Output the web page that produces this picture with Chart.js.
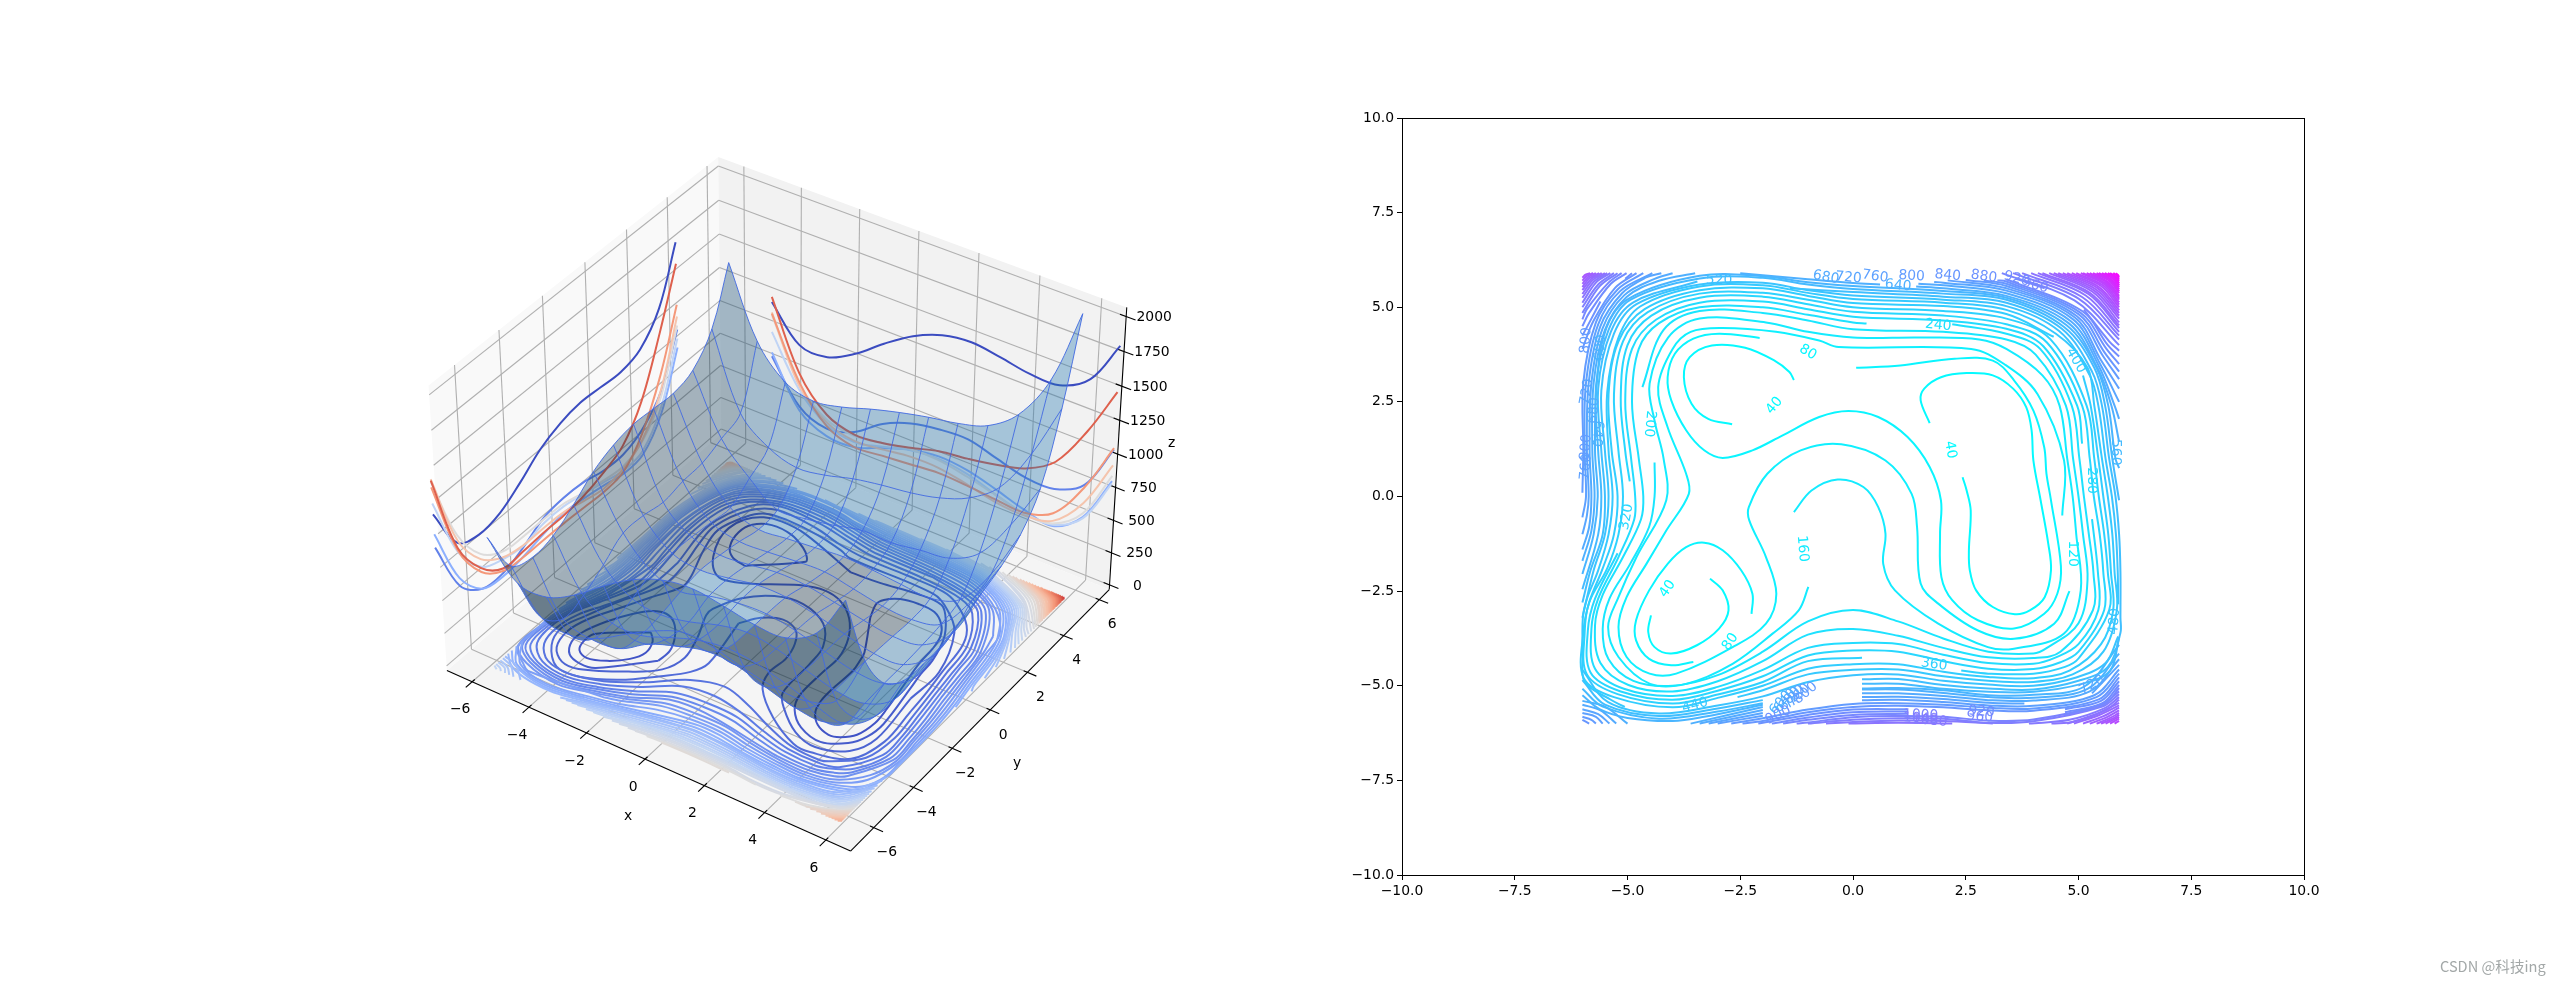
<!DOCTYPE html>
<html><head><meta charset="utf-8">
<style>html,body{margin:0;padding:0;background:#fff;width:2560px;height:983px;overflow:hidden}
canvas{position:absolute;top:0}
#mark{position:absolute;left:2440px;top:955px;font:14.6px "Noto Sans CJK SC","DejaVu Sans",sans-serif;color:#a3a8a8;white-space:nowrap}</style>
<script src="https://cdn.jsdelivr.net/npm/chart.js@4/dist/chart.umd.js"></script>
</head><body>
<canvas id="surf" width="1280" height="983" style="left:0;width:1280px;height:983px"></canvas>
<canvas id="cont" width="1280" height="983" style="left:1280px;width:1280px;height:983px"></canvas>
<div id="mark">CSDN @科技ing</div>
<script>
// ---------- right panel axis ----------
const axisTicks=[-10,-7.5,-5,-2.5,0,2.5,5,7.5,10];
// ---------- contour lines as x,y pairs; null = a gap left by an inline label ----------
const contourLevels=[40,80,120,160,200,240,280,320,360,400,440,480,520,560,600,640,680,720,760,800,840,880,920,960,1000,1040,1080,1120,1160,1200,1240,1280,1320,1360,1400,1440,1480,1520,1560,1600,1640,1680,1720,1760,1800,1840,1880,1920,1960,2000];
const contourPaths=[
/*40*/[[-2.68,1.91,-3.21,2.05,-3.58,2.45,-3.75,3.15,-3.62,3.68,-3.13,3.99,-2.39,3.93,-1.74,3.59,-1.41,3.29,-1.31,3.08],
[-3.17,-2.17,-2.89,-2.48,-2.76,-3.01,-2.97,-3.49,-3.46,-3.93,-4.03,-4.15,-4.4,-3.98,-4.54,-3.58,-4.48,-3.14],
[1.7,1.94,1.5,2.54,1.58,2.85,1.95,3.15,2.52,3.26,3.1,3.2,3.55,2.85,3.84,2.36,3.96,1.75,4,.95,4.16,-.1,4.33,-1.25,4.39,-1.95,4.25,-2.66,3.92,-3.01,3.59,-3.11,3.1,-2.92,2.73,-2.48,2.59,-1.95,2.57,-1.42,2.61,-.37,2.52,.16,2.43,.51]],
/*80*/[[-2.25,-3.1,-2.23,-2.57,-2.48,-1.95,-2.89,-1.42,-3.3,-1.22,-3.7,-1.34,-4.11,-1.78,-4.52,-2.48,-4.81,-3.27,-4.81,-3.8,-4.52,-4.29,-4.03,-4.46,-3.54,-4.37],
[.07,3.4,1.05,3.46,2.25,3.64,3.1,3.59,3.57,3.07,4,2.27,4.24,1.3,4.29,.6,4.39,-.1,4.61,-1.84,4.53,-2.57,4.24,-3.1,3.57,-3.49,2.77,-3.27,2.2,-2.74,1.96,-2.13,1.93,-.98,1.95,-.1,1.7,.78,1.21,1.57,.56,2.1,-.1,2.26,-.75,2.1,-1.57,1.61,-2.23,1.22,-2.89,1.02,-3.3,1.22,-3.7,1.75,-4.03,2.54,-4.11,3.15,-3.95,3.77,-3.54,4.17,-2.97,4.3,-2.07,4.19]],
/*120*/[[4.64,-.5,4.68,.95,4.09,2.71,3.35,3.5,2.62,3.9,-.32,3.95,-.75,4.12,-1.71,4.35,-2.9,4.45,-3.6,4.35,-4,3.9,-4.32,2.89,-4.11,1.83,-3.7,.6,-3.64,.07,-4.14,-.9,-4.58,-1.78,-5.02,-2.66,-5.2,-3.45,-5.02,-4.24,-4.51,-4.68,-3.92,-4.68,-2.67,-3.98,-1.93,-3.36,-1.7,-2.57,-1.93,-1.6,-2.3,-.63,-2.31,-.28,-1.9,.6,-1.16,1.22,-.26,1.38,.72,.95,1.3,.07,1.42,-.81,1.5,-2.3,1.89,-2.83,2.77,-3.54,3.57,-3.76,4.46,-3.36,4.8,-2.5]],
/*160*/[[-1.31,-.41,-.92,.16,-.34,.45,.23,.25,.56,-.28,.72,-.98,.67,-1.78,.93,-2.48,1.89,-3.36,2.99,-3.98,3.57,-4.02,4.68,-3.62,5.05,-2.48,4.95,-1,4.87,0,4.75,1,4.58,2.4,4.2,3.2,3.4,3.9,2.8,4.15,1.5,4.2,0,4.2,-1,4.35,-1.93,4.6,-3.4,4.7,-4.1,4.2,-4.51,2.98,-4.4,2,-4.2,1,-4.14,-.1,-4.8,-1.6,-5.2,-2.66,-5.43,-3.45,-5.2,-4.24,-4.5,-4.95,-3.7,-4.95,-2.67,-4.42,-1.79,-3.63,-1.2,-3,-.99,-2.39]],
/*200*/[[-4.4,.9,-4.4,0,-4.52,-.8,-4.95,-1.8,-5.4,-2.7,-5.55,-3.5,-5.42,-4.3,-4.87,-4.87,-4,-5,-3,-4.72,-2,-4.1,-1,-3.3,0,-3,1,-3.3,2,-3.75,3,-4.1,4,-4.15,4.3,-4,5,-3.35,5.2,-2.2,5.1,-1,5,0,4.88,1,4.72,2.4,4.05,3.75,3.4,4.15,2,4.35,0,4.42,-1,4.65,-2,4.85,-3.4,4.9,-4.2,4.4,-4.67,2.89]],
/*240*/[[2.2,4.55,3.4,4.3,4.15,3.9,4.85,2.4,5.02,1,5.12,0,5.23,-1,5.33,-2,5.32,-3,4.6,-4.1,4,-4.27,3,-4.25,2,-4,1,-3.68,0,-3.5,-1,-3.65,-2,-4.35,-3,-4.88,-4,-5.15,-4.98,-4.98,-5.6,-4.4,-5.72,-3.4,-5.55,-2.6,-5.1,-1.6,-4.7,-.6,-4.65,0,-4.75,1,-4.9,2.5,-4.75,3.9,-4.3,4.58,-3.4,5,-2,5,-1,4.8,0,4.6,.3,4.57]],
/*280*/[[5.3,-.6,5.43,-2,5.44,-3,5,-3.9,4.5,-4.25,4,-4.42,3,-4.4,2,-4.18,1,-3.9,0,-3.87,-1,-4,-2,-4.58,-3,-5.03,-4,-5.27,-5.08,-5.08,-5.72,-4.55,-5.8,-3.5,-5.65,-2.7,-5.2,-1.6,-4.85,-.6,-4.83,0,-4.92,1,-5.05,2.5,-4.9,3.9,-4.37,4.67,-3.4,5.12,-2,5.15,-1,4.95,0,4.75,2,4.65,3.4,4.43,4.22,3.97,4.97,2.4,5.08,1.4]],
/*320*/[[-5.22,-1.5,-5.72,-2.7,-5.88,-3.55,-5.82,-4.65,-5.15,-5.15,-4,-5.37,-3,-5.13,-2,-4.75,-1,-4.2,0,-4.07,1,-4.1,2,-4.35,3,-4.55,4,-4.56,4.6,-4.38,5,-4.1,5.57,-3,5.55,-2,5.47,-1,5.34,0,5.25,1,5.08,2.4,4.3,4.07,3.4,4.55,2,4.78,0,4.88,-1,5.08,-2,5.28,-3.4,5.25,-4.47,4.78,-5,4,-5.15,2.6,-5.05,1.2,-4.95,.4]],
/*360*/[[2.4,-4.6,3,-4.68,4,-4.68,4.7,-4.5,5,-4.28,5.68,-3,5.65,-2,5.57,-1,5.45,0,5.35,1,5.18,2.4,4.38,4.15,3.4,4.7,2,4.9,0,5,-1,5.2,-2,5.38,-3.4,5.36,-4.55,4.87,-5.1,4.1,-5.3,2.7,-5.2,1.2,-5.1,0,-5.2,-1,-5.45,-1.9,-5.85,-2.8,-5.95,-3.6,-5.9,-4.7,-5.22,-5.22,-4,-5.47,-3,-5.23,-2,-4.9,-1,-4.35,.2,-4.26]],
/*400*/[[5.1,3.2,5.27,2.4,5.44,1,5.55,0,5.66,-1,5.72,-2,5.77,-3,5.5,-3.9,4.8,-4.6,4,-4.8,3,-4.77,2,-4.63,1,-4.43,0,-4.43,-1,-4.55,-2,-5,-3,-5.32,-4,-5.57,-5.3,-5.3,-5.97,-4.8,-5.98,-3.6,-5.85,-2.8,-5.55,-1.9,-5.3,-1,-5.22,0,-5.35,1.2,-5.42,2.7,-5.2,4.1,-4.62,4.95,-3.4,5.45,-2,5.5,-1,5.3,0,5.11,2,5.03,3.4,4.82,4.45,4.22]],
/*440*/[[-2.56,-5.3,-2,-5.12,-1,-4.7,0,-4.58,1,-4.57,2,-4.75,3,-4.87,4,-4.9,4.87,-4.7,5.55,-4.1,5.85,-3,5.8,-2,5.75,-1,5.65,0,5.52,1,5.35,2.4,5.2,3.4,4.5,4.3,3.4,4.93,2,5.12,0,5.22,-1,5.38,-2,5.58,-3.4,5.55,-4.72,5.02,-5.2,4.2,-5.45,2.75,-5.42,1.2,-5.33,0,-5.42,-1,-5.65,-1.95,-5.9,-2.7,-5.99,-3.2,-5.99,-4.2,-5.95,-4.9,-5.37,-5.37,-5.06,-5.56]],
/*480*/[[-6,-3.2,-5.75,-1.95,-5.5,-1,-5.42,0,-5.5,1.2,-5.58,2.8,-5.3,4.3,-4.8,5.08,-3.4,5.6,-2,5.65,-1,5.45,0,5.31,2,5.2,3.4,5.03,4.57,4.37,5.25,3.2,5.44,2.4,5.6,1,5.74,0,5.83,-1,5.87,-2,5.88,-2.85,null,5.88,-3.7,5.6,-4.4,4.95,-4.78,4,-5,3,-4.97,2,-4.87,1,-4.7,0,-4.72,-1,-4.9,-2,-5.28,-3,-5.52,-4.3,-5.73,-5.43,-5.43,-6,-4.58]],
/*520*/[[-6,-2.8,-5.82,-1.95,-5.55,-1,-5.5,0,-5.58,1.2,-5.65,2.85,-5.37,4.35,-4.87,5.13,-3.45,5.68,null,-1.4,5.5,0,5.4,2,5.28,3.4,5.12,4.63,4.43,5.3,3.3,5.52,2.4,5.68,1,5.82,0,5.9,-1,5.93,-2,5.93,-3.2,5.93,-3.6,5.65,-4.5,5,-4.87,4,-5.1,3,-5.07,2,-4.98,1,-4.82,.2,-4.83,null,-2,-5.38,-3,-5.6,-4.3,-5.8,-5.5,-5.5,-6,-4.85]],
/*560*/[[-6,-2.45,-5.65,-1,-5.58,0,-5.65,1.2,-5.7,2.9,-5.42,4.4,-4.93,5.2,-3.4,5.76,-2,5.78,-1,5.6,0,5.48,2,5.36,3.4,5.2,4.68,4.48,5.35,3.4,5.59,2.4,5.75,1,5.9,-.1],
[5.9,-3.72,5.7,-4.6,5.07,-4.95,4,-5.16,3,-5.16,2,-5.08,1,-4.95,.2,-4.95,null,-2,-5.46,-3,-5.68,-4.3,-5.87,-5.55,-5.55,-6,-5.08]],
/*600*/[[-6,-2.05,-5.75,-1,-5.66,0,-5.72,1.2,-5.68,3,-5.47,4.45,-4.97,5.23,-3.4,5.83,-2,5.82,-1,5.66,0,5.56,2,5.43,3.4,5.25,4.73,4.53,5.4,3.4,5.66,2.4,5.82,1,5.9,.75],
[5.9,-3.92,5.13,-5.02,4,-5.24,3,-5.25,2,-5.12,1,-5.06,.2,-5.07,null,-2,-5.5,-3.3,-5.82,-4,-5.93,-5,-5.85,-5.62,-5.62,-6,-5.25]],
/*640*/[[-6,-1.7,-5.8,-.9,-5.73,0,-5.78,1.2,-5.75,3,-5.5,4.4,-5.02,5.27,-4.3,5.7,-3.5,5.9],[-2.5,5.9,-1,5.74,0,5.64,.6,5.6,null,1.4,5.55,2,5.5,3.4,5.3,4.78,4.58,5.42,3.4,5.73,2.4,5.9,1.45],
[5.9,-4.15,5.2,-5.08,4,-5.32,3,-5.3,2,-5.19,1,-5.1,.2,-5.1,null,-2,-5.56,-3.6,-6],[-6,-5.4,-5.5,-5.55,-5,-6]],
/*680*/[[-6,-1.4,-5.85,-.8,-5.8,0,-5.84,1.2,-5.8,3,-5.55,4.45,-5.07,5.32,-4.4,5.75,-4,5.9],[-1.9,5.9,null,-1,5.82,null,0,5.72,null,1.45,5.62,2,5.58,3.4,5.37,4.83,4.63,5.45,3.45,5.8,2.4,5.9,2.05],
[5.9,-4.3,5.25,-5.15,4,-5.39,3,-5.38,2,-5.27,1,-5.2,.2,-5.2,null,-2,-5.64,-3.4,-6],[-6,-5.5,-5.6,-5.65,-5.25,-6]],
/*720*/[[-6,-1,-5.9,-.5,-5.86,0,-5.9,1.2,-5.86,3,-5.6,4.5,-5.12,5.37,-4.6,5.78,-4.25,5.9],[-1.3,5.9,null,0,5.8,null,1.8,5.67,2,5.65,3.4,5.44,4.88,4.68,5.48,3.5,5.9,2.5],
[5.9,-4.45,5.3,-5.2,null,3.8,-5.47,3,-5.45,2,-5.35,1,-5.29,.2,-5.3,null,-2,-5.72,-3.2,-6],[-6,-5.62,-5.65,-5.75,-5.4,-6]],
/*760*/[[-6,-.55,-5.92,0,-5.95,1.2,-5.92,3,-5.65,4.55,-5.17,5.42,-4.45,5.9],[-.7,5.9,null,0,5.87,null,1.2,5.79,null,2.1,5.71,3.4,5.5,4.92,4.73,5.5,3.6,5.9,2.85],
[5.9,-4.57,5.35,-5.25,4,-5.53,3,-5.52,2,-5.43,1,-5.37,.2,-5.38,null,-2,-5.79,-3,-6],[-6,-5.72,-5.7,-5.82,-5.55,-6]],
/*800*/[[-6,.1,-5.98,1.2,-5.98,3,-5.7,4.6,-5.22,5.47,-4.65,5.9],[0,5.9,null,1.4,5.83,null,2.5,5.72,3.4,5.56,4.96,4.77,5.55,3.7,5.9,3.1],
[5.9,-4.68,5.4,-5.3,4,-5.6,3,-5.58,2,-5.5,1,-5.46,0,-5.48,-1,-5.63,-2,-5.86,-2.7,-6],[-6,-5.82,-5.8,-5.9,-5.7,-6]],
/*840*/[[-6,3.9,-5.75,4.65,-5.27,5.52,-4.8,5.9],[.9,5.9,null,2,5.85,null,2.9,5.7,3.4,5.62,5,4.82,5.58,3.8,5.9,3.3],[5.9,-4.78,5.45,-5.36,4,-5.66,3,-5.65,2,-5.57,1,-5.53,0,-5.56,-1,-5.7,-2,-5.93,-2.45,-6],[-6,-5.9,-5.85,-6]],
/*880*/[[-6,4.25,-5.8,4.7,-5.6,5.15,null,-5.05,5.75,-4.9,5.9],[1.8,5.9,null,2.6,5.81,null,3.2,5.71,3.4,5.68,5.04,4.86,5.62,3.9,5.9,3.5],[5.9,-4.88,5.5,-5.4,4.7,-5.62,null,1.2,-5.62,0,-5.63,-1,-5.77,-2.1,-6]],
/*920*/[[-6,4.5,-5.85,4.85,-5.37,5.62,-5.02,5.9],[2.5,5.9,null,3,5.82,null,3.4,5.74,5.08,4.9,5.65,4,5.9,3.7],[5.9,-4.98,5.53,-5.46,4.7,-5.7,null,1.2,-5.68,0,-5.7,-1,-5.84,-1.8,-6]],
/*960*/[[-6,4.68,-5.9,4.95,-5.42,5.65,-5.13,5.9],[3,5.9,null,3.6,5.76,4.25,5.5,null,5.12,4.94,5.68,4.1,5.9,3.85],[5.9,-5.06,5.57,-5.5,4.7,-5.76,null,1.2,-5.74,0,-5.77,-1,-5.9,-1.55,-6]],
/*1000*/[[-6,4.85,-5.62,5.55,-5.22,5.9],[3.3,5.9,4.91,5.18,5.9,4],[5.9,-5.15,5.5,-5.5,4,-5.89,3,-5.92,2,-5.82,1,-5.8,0,-5.83,-1,-5.97,-1.25,-6]],
/*1040*/[[-6,5,-5.65,5.6,-5.3,5.9],[3.55,5.9,5,5.23,5.9,4.15],[5.9,-5.22,5.53,-5.55,4,-5.94,3,-5.98,2,-5.87,1,-5.86,0,-5.9,-1,-6]],
/*1080*/[[-6,5.12,-5.7,5.65,-5.38,5.9],[3.75,5.9,5.08,5.27,5.9,4.25],[5.9,-5.3,5.57,-5.6,4.8,-5.9,3.9,-6],[3.1,-6,2,-5.93,1,-5.92,0,-5.96,-.6,-6]],
/*1120*/[[-6,5.25,-5.74,5.68,-5.45,5.9],[3.95,5.9,5.16,5.31,5.9,4.35],[5.9,-5.37,5.6,-5.65,4.9,-5.95,4.4,-6],[2.2,-6,1,-5.98,-.1,-6]],
/*1160*/[[-6,5.35,-5.77,5.72,-5.5,5.9],[4.1,5.9,5.22,5.35,5.9,4.45],[5.9,-5.45,5.38,-5.75,4.75,-6]],
/*1200*/[[-6,5.45,-5.8,5.75,-5.57,5.9],[4.2,5.9,5.25,5.38,5.9,4.52],[5.9,-5.52,5.45,-5.78,4.9,-6]],
/*1240*/[[-6,5.53,-5.84,5.77,-5.63,5.9],[4.35,5.9,5.31,5.41,5.9,4.6],[5.9,-5.58,5.54,-5.81,5.1,-6]],
/*1280*/[[-6,5.62,-5.87,5.8,-5.7,5.9],[4.45,5.9,5.35,5.44,5.9,4.7],[5.9,-5.65,5.61,-5.84,5.25,-6]],
/*1320*/[[-6,5.7,-5.9,5.83,-5.76,5.9],[4.55,5.9,5.39,5.47,5.9,4.78],[5.9,-5.72,5.67,-5.87,5.4,-6]],
/*1360*/[[-6,5.78,-5.93,5.86,-5.83,5.9],[4.65,5.9,5.43,5.5,5.9,4.85],[5.9,-5.77,5.72,-5.89,5.5,-6]],
/*1400*/[[4.75,5.9,5.46,5.53,5.9,4.92],[5.9,-5.82,5.76,-5.91,5.6,-6]],
/*1440*/[[4.85,5.9,5.5,5.56,5.9,5],[5.9,-5.87,5.81,-5.93,5.7,-6]],
/*1480*/[[4.95,5.9,5.54,5.58,5.9,5.07],[5.9,-5.93,5.85,-5.96,5.8,-6]],
/*1520*/[[5.05,5.9,5.57,5.61,5.9,5.13]],
/*1560*/[[5.1,5.9,5.6,5.63,5.9,5.2]],/*1600*/[[5.18,5.9,5.63,5.65,5.9,5.25]],/*1640*/[[5.25,5.9,5.65,5.67,5.9,5.3]],/*1680*/[[5.32,5.9,5.68,5.7,5.9,5.37]],
/*1720*/[[5.4,5.9,5.71,5.72,5.9,5.42]],/*1760*/[[5.45,5.9,5.73,5.74,5.9,5.47]],/*1800*/[[5.52,5.9,5.76,5.76,5.9,5.53]],/*1840*/[[5.58,5.9,5.78,5.78,5.9,5.58]],
/*1880*/[[5.65,5.9,5.8,5.8,5.9,5.63]],/*1920*/[[5.7,5.9,5.82,5.82,5.9,5.7]],/*1960*/[[5.77,5.9,5.85,5.84,5.9,5.75]],/*2000*/[[5.83,5.9,5.87,5.86,5.9,5.8]]
];
// ---------- inline contour labels ----------
const labelTexts=["40","40","40","80","80","120","160","200","240","280","320","520","360","400","440","480","560","600","640","680","720","760","800","840","880","920","960","800","720","680","640","800","760","1000","1040","1080","920","960","600","640","680","720","760","800","720","900"];
const labelLevels=[40,40,40,80,80,120,160,200,240,280,320,520,360,400,440,480,560,600,640,680,720,760,800,840,880,920,960,800,720,680,640,800,760,1000,1040,1080,920,960,600,640,680,720,760,800,720,900];
const labelX=[-1.74,-4.11,2.16,-1,-2.72,4.86,-1.12,-4.51,1.89,5.29,-5.02,-2.97,1.8,4.94,-3.5,5.8,5.82,-5.6,1,-.6,-.1,.49,1.3,2.1,2.9,3.63,4.04,-5.92,-5.9,-5.74,-5.67,-5.92,-5.92,1.5,1.5,1.7,2.85,2.81,-1.6,-1.5,-1.4,-1.3,-1.2,-1.05,5.3,-1.66];
const labelY=[2.4,-2.44,1.23,3.81,-3.84,-1.51,-1.38,1.92,4.52,.42,-.54,5.72,-4.44,3.59,-5.52,-3.3,1.17,3.93,5.57,5.79,5.78,5.81,5.82,5.84,5.81,5.75,5.57,4.12,2.76,2.27,1.66,1.3,.78,-5.78,-5.87,-5.93,-5.69,-5.83,-5.45,-5.4,-5.35,-5.3,-5.25,-5.2,-4.98,-5.78];
const labelAngles=[-50,-55,80,30,-55,90,85,95,5,90,-80,0,8,60,-15,-85,90,-85,5,10,5,8,3,5,8,15,15,-85,-80,-85,95,-85,-85,2,3,5,5,3,-50,-50,-50,-50,-45,-40,-30,-25];
// ---------- surface heights, estimated; rows = y, columns = x ----------
const gridX=[-6,-5,-4,-3,-2,-1,0,1,2,3,4,5,5.9];
const gridY=[-6,-5,-4,-3,-2,-1,0,1,2,3,4,5,5.9];
const surfaceZ=[
[890,640,630,740,900,1040,1130,1160,1130,1090,1090,1220,1540],
[540,240,200,270,400,520,600,580,520,480,480,580,960],
[470,90,25,50,180,260,320,310,240,180,170,300,650],
[500,130,10,10,90,165,200,180,120,50,10,170,530],
[600,230,60,30,70,140,180,150,85,25,20,155,510],
[720,340,130,70,130,170,180,145,80,25,30,170,520],
[790,340,140,100,130,170,170,130,75,20,30,200,570],
[820,310,130,80,100,130,125,85,40,10,40,230,620],
[810,340,110,50,60,80,90,50,10,0,60,340,680],
[800,350,90,10,30,50,70,60,40,26,110,400,780],
[850,410,190,30,50,90,140,136,170,200,330,640,990],
[1040,480,300,230,260,320,360,390,440,530,700,1040,1450],
[1430,920,690,630,670,740,800,850,890,960,1130,1470,2020]];
// ---------- projected slices on the walls ----------
const wallLevels=[-6,-4.5,-3,-1.5,0,1.5,3,4.5];
const leftWallZ=[
[890,540,470,500,600,720,790,820,810,800,850,1040,1430],
[640,210,50,35,100,190,215,205,165,160,230,400,770],
[740,270,50,10,30,70,100,80,50,10,30,230,630],
[970,470,220,140,110,150,150,115,75,35,60,280,700],
[1130,600,320,200,180,180,170,125,90,70,140,360,800],
[1150,560,280,155,115,115,105,60,25,50,150,410,870],
[1090,480,180,50,25,25,20,10,0,26,200,530,960],
[1140,500,210,70,70,80,80,100,150,230,450,850,1270]];
const backWallZ=[
[890,640,630,740,900,1040,1130,1160,1130,1090,1090,1220,1540],
[470,160,70,130,280,370,410,420,360,300,300,420,770],
[500,130,10,10,90,165,200,180,120,50,10,170,530],
[660,290,100,50,100,160,180,150,80,20,20,160,510],
[790,340,140,100,130,170,170,130,75,20,30,200,570],
[810,320,120,60,80,110,110,70,20,5,50,280,650],
[800,350,90,10,30,50,70,60,40,26,110,400,780],
[930,420,180,110,130,180,240,270,310,370,510,830,1200]];
const xyTicks3d=[-6,-4,-2,0,2,4,6];
const zTicks3d=[0,250,500,750,1000,1250,1500,1750,2000];

// ---------- view ----------
const xLim=[-6.9,6.8],yLim=[-7.15,6.57],zLim=[-36,2065];
const wallX=-8,wallY=8,floorZ=-107,floorDX=-.17,dataDX=-.1,ELEV=38,AZIM=-56,DIST=10,BOX=[1.1429,1.1429,.857];
const SX=4284,SY=4195,CX=782,CY=491.5,Z0=zLim[0];
const er=ELEV*Math.PI/180,ar=AZIM*Math.PI/180;
const N=[Math.cos(er)*Math.cos(ar),Math.cos(er)*Math.sin(ar),Math.sin(er)];
const U=[-Math.sin(ar),Math.cos(ar),0];
const V=[-Math.sin(er)*Math.cos(ar),-Math.sin(er)*Math.sin(ar),Math.cos(er)];
function project(x,y,z){
  const r=[((x-xLim[0])/(xLim[1]-xLim[0])-.5)*BOX[0],((y-yLim[0])/(yLim[1]-yLim[0])-.5)*BOX[1],((z-zLim[0])/(zLim[1]-zLim[0])-.5)*BOX[2]];
  const dot=a=>a[0]*r[0]+a[1]*r[1]+a[2]*r[2],d=DIST-dot(N);
  return {x:CX+SX*dot(U)/d,y:CY-SY*dot(V)/d};
}
// ---------- colour maps ----------
const CW=[[0,59,76,192],[.125,98,130,234],[.25,141,176,254],[.375,192,212,245],[.5,221,220,220],[.625,245,196,173],[.75,244,152,122],[.875,222,96,77],[1,180,4,38]];
function coolwarm(t){t=Math.max(0,Math.min(1,t));for(let i=1;i<CW.length;i++)if(t<=CW[i][0]){const a=CW[i-1],b=CW[i],f=(t-a[0])/(b[0]-a[0]);return `rgb(${[1,2,3].map(k=>Math.round(a[k]+(b[k]-a[k])*f)).join(',')})`}return 'rgb(180,4,38)'}
const LMAX=2060;
const cool=L=>{const t=Math.min(1,L/LMAX);return `rgb(${Math.round(255*t)},${Math.round(255*(1-t))},255)`};
const fmt=v=>String(v).replace('-','\u2212');
const FONT='13.9px "DejaVu Sans"';
function toPoints(flat){const o=[];for(let i=0;i<flat.length;){if(flat[i]===null){o.push({x:null,y:null});i++}else{o.push({x:flat[i],y:flat[i+1]});i+=2}}return o}

// ---------- right panel ----------
const rightSets=[];
contourLevels.forEach((L,k)=>contourPaths[k].forEach(p=>rightSets.push({data:toPoints(p),showLine:true,borderColor:cool(L),borderWidth:2,pointRadius:0,tension:.35,spanGaps:false})));
new Chart(document.getElementById('cont'),{type:'scatter',data:{datasets:rightSets},
 options:{responsive:false,animation:false,devicePixelRatio:1,events:[],layout:{padding:{left:62,right:256,top:118,bottom:68}},
  plugins:{legend:{display:false},tooltip:{enabled:false}},
  scales:{
   x:{min:-10,max:10,afterBuildTicks:s=>{s.ticks=axisTicks.map(v=>({value:v}))},afterFit:s=>{s.height=40},
      ticks:{font:{family:'DejaVu Sans',size:13.9},color:'#000',padding:3,maxRotation:0,autoSkip:false,callback:v=>fmt(v.toFixed(1))},
      grid:{drawOnChartArea:false,tickLength:5,tickColor:'#000'},border:{color:'#000'}},
   y:{min:-10,max:10,afterBuildTicks:s=>{s.ticks=axisTicks.map(v=>({value:v}))},afterFit:s=>{s.width=60},
      ticks:{font:{family:'DejaVu Sans',size:13.9},color:'#000',padding:3,autoSkip:false,callback:v=>fmt(v.toFixed(1))},
      grid:{drawOnChartArea:false,tickLength:5,tickColor:'#000'},border:{color:'#000'}}}},
 plugins:[{id:'labels',afterDatasetsDraw(c){const g=c.ctx,a=c.chartArea;g.save();g.strokeStyle='#000';g.lineWidth=1;g.strokeRect(a.left+.5,a.top+.5,a.right-a.left,a.bottom-a.top);
   g.font=FONT;g.textAlign='center';g.textBaseline='middle';
   labelTexts.forEach((t,i)=>{g.save();g.translate(c.scales.x.getPixelForValue(labelX[i]),c.scales.y.getPixelForValue(labelY[i]));g.rotate(labelAngles[i]*Math.PI/180);g.fillStyle=cool(labelLevels[i]);g.fillText(t,0,0);g.restore()});g.restore()}}]
});

// ---------- left panel, painted back to front ----------
const layers=[];
const seg=(pts,color,w)=>layers.push({data:pts,showLine:true,borderColor:color,borderWidth:w,pointRadius:0,tension:0});
const GRID='#b0b0b0';
xyTicks3d.forEach(t=>{seg([project(t,yLim[0],Z0),project(t,yLim[1],Z0)],GRID,1.1);seg([project(xLim[0],t,Z0),project(xLim[1],t,Z0)],GRID,1.1);
  seg([project(xLim[0],t,Z0),project(xLim[0],t,zLim[1])],GRID,1.1);seg([project(t,yLim[1],Z0),project(t,yLim[1],zLim[1])],GRID,1.1)});
zTicks3d.forEach(t=>{seg([project(xLim[0],yLim[0],t),project(xLim[0],yLim[1],t)],GRID,1.1);seg([project(xLim[0],yLim[1],t),project(xLim[1],yLim[1],t)],GRID,1.1)});
[[project(xLim[0],yLim[0],Z0),project(xLim[1],yLim[0],Z0)],[project(xLim[1],yLim[0],Z0),project(xLim[1],yLim[1],Z0)],[project(xLim[1],yLim[1],Z0),project(xLim[1],yLim[1],zLim[1])]].forEach(s=>seg(s,'#000',1.1));
xyTicks3d.forEach(t=>{seg([project(t,yLim[0]+.12,Z0),project(t,yLim[0]-.3,Z0)],'#000',1.1);seg([project(xLim[1]-.12,t,Z0),project(xLim[1]+.3,t,Z0)],'#000',1.1)});
zTicks3d.forEach(t=>seg([project(xLim[1]-.2,yLim[1],t),project(xLim[1]+.3,yLim[1],t)],'#000',1.1));
// floor contours
contourLevels.forEach((L,k)=>contourPaths[k].forEach(p=>{
  const pts=toPoints(p).map(q=>q.x===null?q:project(q.x+floorDX,q.y,floorZ));
  if(L<=440)pts.push(pts[0]);
  layers.push({data:pts,showLine:true,borderColor:coolwarm(L/2186),borderWidth:2,pointRadius:0,tension:.35,spanGaps:true});
}));
// wall slices
wallLevels.forEach((c,k)=>{const col=coolwarm((c+6)/12);
  layers.push({data:gridY.map((y,i)=>project(wallX,y,leftWallZ[k][i])),showLine:true,borderColor:col,borderWidth:2,pointRadius:0,tension:.35});
  layers.push({data:gridX.map((x,i)=>project(x,wallY,backWallZ[k][i])),showLine:true,borderColor:col,borderWidth:2,pointRadius:0,tension:.35});
});
// wireframe
const WIRE='rgba(65,105,225,.9)';
const rowSets=gridY.map((y,j)=>({data:gridX.map((x,i)=>project(x+dataDX,y,surfaceZ[j][i])),showLine:true,borderColor:WIRE,borderWidth:1,pointRadius:0,tension:.35}));
const colSets=gridX.map((x,i)=>({data:gridY.map((y,j)=>project(x+dataDX,y,surfaceZ[j][i])),showLine:true,borderColor:WIRE,borderWidth:1,pointRadius:0,tension:.35}));
rowSets[0].surfaceAnchor=true;
rowSets.concat(colSets).forEach(d=>layers.push(d));
const paintOrder=layers.slice().reverse();

function drawSurface(c){
  const g=c.ctx,all=c.data.datasets,m=s=>c.getDatasetMeta(all.indexOf(s)).data,R=rowSets.map(m),C=colSets.map(m);
  const L=[-.667,-.667,.333];
  g.save();
  for(let j=0;j<gridY.length-1;j++)for(let i=0;i<gridX.length-1;i++){
    const zx=(surfaceZ[j][i+1]+surfaceZ[j+1][i+1]-surfaceZ[j][i]-surfaceZ[j+1][i])/(2*(gridX[i+1]-gridX[i]));
    const zy=(surfaceZ[j+1][i]+surfaceZ[j+1][i+1]-surfaceZ[j][i]-surfaceZ[j][i+1])/(2*(gridY[j+1]-gridY[j]));
    const n=Math.hypot(zx,zy,1),s=(-zx*L[0]-zy*L[1]+L[2])/n,f=.3+.7*(s+1)/2;
    g.fillStyle=`rgba(${Math.round(31*f)},${Math.round(119*f)},${Math.round(180*f)},.36)`;
    const a=R[j][i],b=R[j][i+1],d=R[j+1][i+1],e=R[j+1][i],ca=C[i][j],ce=C[i][j+1],cb=C[i+1][j],cd=C[i+1][j+1];
    g.beginPath();g.moveTo(a.x,a.y);
    g.bezierCurveTo(a.cp2x,a.cp2y,b.cp1x,b.cp1y,b.x,b.y);
    g.bezierCurveTo(cb.cp2x,cb.cp2y,cd.cp1x,cd.cp1y,d.x,d.y);
    g.bezierCurveTo(d.cp1x,d.cp1y,e.cp2x,e.cp2y,e.x,e.y);
    g.bezierCurveTo(ce.cp1x,ce.cp1y,ca.cp2x,ca.cp2y,a.x,a.y);
    g.closePath();g.fill();
  }
  g.restore();
}
new Chart(document.getElementById('surf'),{type:'scatter',data:{datasets:paintOrder},
 options:{responsive:false,animation:false,devicePixelRatio:1,events:[],layout:{padding:0},
  plugins:{legend:{display:false},tooltip:{enabled:false}},
  scales:{x:{type:'linear',min:0,max:1280,display:false},y:{type:'linear',min:0,max:983,reverse:true,display:false}}},
 plugins:[{id:'panes',beforeDatasetsDraw(c){const g=c.ctx,px=p=>[c.scales.x.getPixelForValue(p.x),c.scales.y.getPixelForValue(p.y)];
   const poly=(pts,col)=>{g.fillStyle=col;g.beginPath();pts.map(px).forEach((p,i)=>i?g.lineTo(p[0],p[1]):g.moveTo(p[0],p[1]));g.closePath();g.fill()};
   const [x0,x1]=xLim,[y0,y1]=yLim,[z0,z1]=zLim;
   poly([project(x0,y0,z0),project(x1,y0,z0),project(x1,y1,z0),project(x0,y1,z0)],'#f5f5f5');
   poly([project(x0,y0,z0),project(x0,y1,z0),project(x0,y1,z1),project(x0,y0,z1)],'#f9f9f9');
   poly([project(x0,y1,z0),project(x1,y1,z0),project(x1,y1,z1),project(x0,y1,z1)],'#f2f2f2');
  },
  beforeDatasetDraw(c,args){if(c.data.datasets[args.index].surfaceAnchor)drawSurface(c)},
  afterDatasetsDraw(c){const g=c.ctx,sx=c.scales.x,sy=c.scales.y;g.save();g.font=FONT;g.fillStyle='#000';g.textAlign='center';g.textBaseline='middle';
   const put=(t,p,dx,dy)=>g.fillText(t,sx.getPixelForValue(p.x)+dx,sy.getPixelForValue(p.y)+dy);
   xyTicks3d.forEach(t=>{put(fmt(t),project(t,yLim[0],Z0),-12,28);put(fmt(t),project(xLim[1],t,Z0),13,25)});
   zTicks3d.forEach(t=>put(fmt(t),project(xLim[1],yLim[1],t),28,1));
   put('x',project(0,yLim[0],Z0),-17,57);put('y',project(xLim[1],0,Z0),27,53);put('z',project(xLim[1],yLim[1],1000),54,-11);
   g.restore()}}]
});
</script></body></html>
